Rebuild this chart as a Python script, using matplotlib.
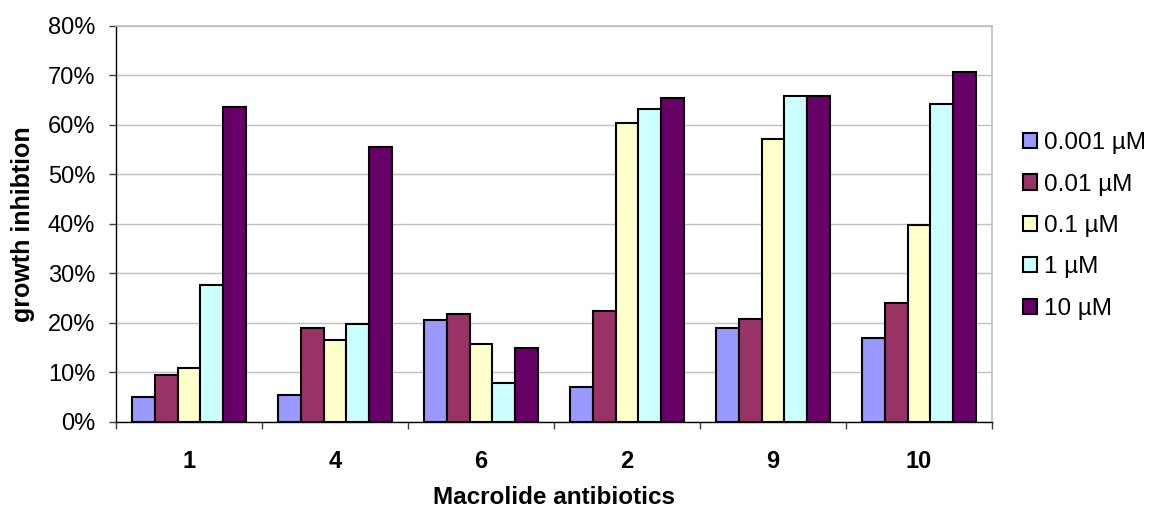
import matplotlib
matplotlib.use("Agg")
import matplotlib.pyplot as plt
import numpy as np
from matplotlib.ticker import PercentFormatter, FixedLocator
from matplotlib.patches import Patch

plt.rcParams['font.family'] = ['Liberation Sans', 'DejaVu Sans']

categories = ["1", "4", "6", "2", "9", "10"]
series_names = ["0.001 µM", "0.01 µM", "0.1 µM", "1 µM", "10 µM"]
s_0001 = [5.1, 5.5, 20.5, 7.1, 18.9, 16.9]
s_001 = [9.5, 18.9, 21.8, 22.5, 20.8, 24.0]
s_01 = [11.0, 16.6, 15.8, 60.3, 57.1, 39.7]
s_1 = [27.6, 19.7, 7.9, 63.1, 65.8, 64.2]
s_10 = [63.5, 55.6, 15.0, 65.5, 65.8, 70.6]
series_values = [s_0001, s_001, s_01, s_1, s_10]
colors = ["#9999FF", "#993366", "#FFFFCC", "#CCFFFF", "#660066"]
y_ticks = [0, 10, 20, 30, 40, 50, 60, 70, 80]

W, H = 1153, 512
fig = plt.figure(figsize=(W / 100, H / 100), dpi=100)
ax = fig.add_axes([116 / W, 1 - 422 / H, (992 - 116) / W, (422 - 25.7) / H])

x = np.arange(len(categories))
n = len(series_values)
bw = 0.778 / n
for i, (vals, col, name) in enumerate(zip(series_values, colors, series_names)):
    ax.bar(x + (i - (n - 1) / 2) * bw, vals, width=bw, color=col,
           edgecolor="black", linewidth=1.5, label=name, zorder=3)

ax.set_xlim(-0.5, len(categories) - 0.5)
ax.set_ylim(0, 80)
ax.set_yticks(y_ticks)
ax.yaxis.set_major_formatter(PercentFormatter(decimals=0))
ax.yaxis.grid(True, color="#C0C0C0", linewidth=1.0)
ax.set_axisbelow(True)

ax.set_xticks(x)
ax.set_xticklabels(categories, fontweight="bold", fontsize=17)
ax.xaxis.set_minor_locator(FixedLocator(np.arange(-0.5, len(categories), 1.0)))
ax.tick_params(axis="x", which="major", length=0, pad=20)
ax.tick_params(axis="x", which="minor", length=5, width=1, color="#404040", direction="out")
ax.tick_params(axis="y", which="major", length=5, width=1, color="#404040", pad=10, labelsize=17)

for s in ["top", "right"]:
    ax.spines[s].set_color("#C0C0C0")
    ax.spines[s].set_linewidth(1.2)
for s in ["left", "bottom"]:
    ax.spines[s].set_color("black")
    ax.spines[s].set_linewidth(1.0)

fig.text(23 / W, 1 - 224 / H, "growth inhibtion", rotation=90, ha="center",
         va="center", fontsize=18, fontweight="bold")
fig.text(554 / W, 1 - 486 / H, "Macrolide antibiotics", ha="center", va="top",
         fontsize=17.5, fontweight="bold")

handles = [Patch(facecolor=c, edgecolor="black", linewidth=1.5) for c in colors]
fig.legend(handles, series_names, loc="center left",
           bbox_to_anchor=(1023 / W, 1 - 226 / H), frameon=False,
           fontsize=17.5, handlelength=0.58, handleheight=0.58,
           handletextpad=0.3, labelspacing=0.8, borderpad=0, borderaxespad=0)

fig.savefig("out.png", dpi=100)
